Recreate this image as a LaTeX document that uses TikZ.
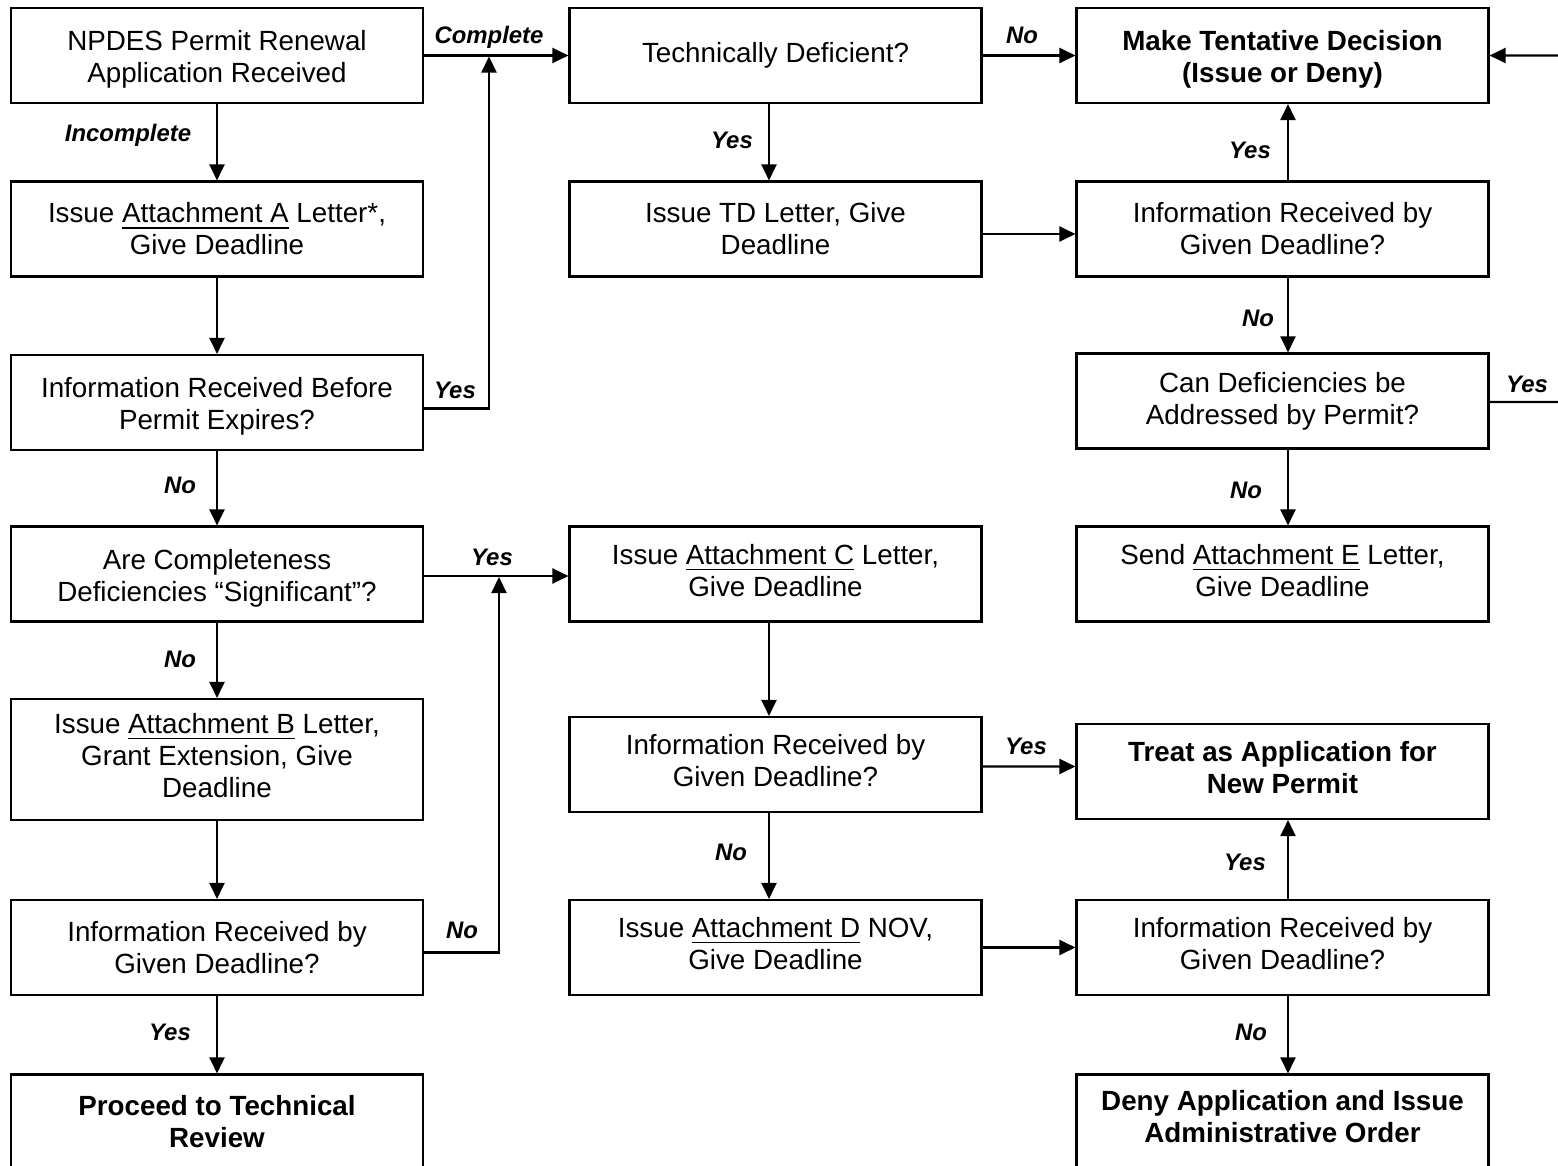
\documentclass[tikz,border=0pt]{standalone}
\usepackage{fontspec}
\setmainfont{Liberation Sans}
\usepackage{tikz}
\usetikzlibrary{arrows.meta,positioning}
\newcommand{\topgap}{\rule{0pt}{1.02em}}

\begin{document}
\begin{tikzpicture}
			\tikzstyle{Box}		= [rectangle, draw, line width=0.6pt, minimum width=4.12cm, minimum height=0.95cm, inner sep=0pt, align=center, font=\fontsize{7.9}{9.1}\selectfont]
			\tikzstyle{Tall}	= [minimum height=1.21cm]
			\tikzstyle{Strong}	= [font=\fontsize{7.9}{9.1}\selectfont\bfseries]
			\tikzstyle{High}	= [execute at end node={\rule[-0.29em]{0pt}{0.29em}}]
			\tikzstyle{Higher}	= [execute at end node={\rule[-0.43em]{0pt}{0.43em}}]
			\tikzstyle{Label}	= [inner sep=0pt, font=\fontsize{6.8}{8}\selectfont\bfseries\itshape]
			\tikzstyle{Flow}	= [line width=0.6pt, -{Triangle[length=1.6mm, width=1.5mm]}]

			\useasboundingbox (0, 0) rectangle (15.58, -11.66);
			\clip (0, 0) rectangle (15.58, -11.66);

			% left column
			\node (a1) at (2.17, -0.555) [Box] {\topgap NPDES Permit Renewal\\Application Received};
			\node (a2) at (2.17, -2.29) [Box] {Issue \underline{Attachment A} Letter*,\\Give Deadline};
			\node (a3) at (2.17, -4.025) [Box] {\topgap Information Received Before\\Permit Expires?};
			\node (a4) at (2.17, -5.74) [Box] {\topgap Are Completeness\\Deficiencies “Significant”?};
			\node (a5) at (2.17, -7.595) [Box][Tall][High] {Issue \underline{Attachment B} Letter,\\Grant Extension, Give\\Deadline};
			\node (a6) at (2.17, -9.475) [Box] {Information Received by\\Given Deadline?};
			\node (a7) at (2.17, -11.22) [Box][Strong] {Proceed to Technical\\Review};

			% middle column
			\node (b1) at (7.755, -0.555) [Box] {Technically Deficient?};
			\node (b2) at (7.755, -2.29) [Box] {Issue TD Letter, Give\\Deadline};
			\node (b3) at (7.755, -5.74) [Box][High] {Issue \underline{Attachment C} Letter,\\Give Deadline};
			\node (b4) at (7.755, -7.645) [Box][High] {Information Received by\\Given Deadline?};
			\node (b5) at (7.755, -9.475) [Box][High] {Issue \underline{Attachment D} NOV,\\Give Deadline};

			% right column
			\node (c1) at (12.825, -0.555) [Box][Strong] {\topgap Make Tentative Decision\\(Issue or Deny)};
			\node (c2) at (12.825, -2.29) [Box] {Information Received by\\Given Deadline?};
			\node (c3) at (12.825, -4.01) [Box] {Can Deficiencies be\\Addressed by Permit?};
			\node (c4) at (12.825, -5.74) [Box][High] {Send \underline{Attachment E} Letter,\\Give Deadline};
			\node (c5) at (12.825, -7.715) [Box][Strong][High] {Treat as Application for\\New Permit};
			\node (c6) at (12.825, -9.475) [Box][High] {Information Received by\\Given Deadline?};
			\node (c7) at (12.825, -11.22) [Box][Strong][Higher] {Deny Application and Issue\\Administrative Order};

			\coordinate (j1) at (4.89, -0.565);
			\coordinate (j2) at (4.99, -5.77);
			\coordinate (e1) at (15.9, -4.02);

			\draw [Flow] (a1) to (b1);
			\draw [Flow] (a1) to (a2);
			\draw [Flow] (a2) to (a3);
			\draw [Flow] ([yshift=-0.6mm]a3.east) -| (j1);
			\draw [Flow] (a3) to (a4);
			\draw [Flow] ([yshift=-0.2mm]a4.east) to ([yshift=-0.2mm]b3.west);
			\draw [Flow] (a4) to (a5);
			\draw [Flow] (a5) to (a6);
			\draw [Flow] ([yshift=-0.5mm]a6.east) -| (j2);
			\draw [Flow] (a6) to (a7);

			\draw [Flow] (b1) to (c1);
			\draw [Flow] ([xshift=-0.65mm]b1.south) to ([xshift=-0.65mm]b2.north);
			\draw [Flow] ([yshift=-0.5mm]b2.east) to ([yshift=-0.5mm]c2.west);
			\draw [Flow] ([xshift=-0.65mm]b3.south) to ([xshift=-0.65mm]b4.north);
			\draw [Flow] ([yshift=-0.2mm]b4.east) to ([yshift=0.5mm]c5.west);
			\draw [Flow] ([xshift=-0.65mm]b4.south) to ([xshift=-0.65mm]b5.north);
			\draw [Flow] (b5) to (c6);

			\draw [Flow] ([xshift=0.55mm]c2.north) to ([xshift=0.55mm]c1.south);
			\draw [Flow] ([xshift=0.55mm]c2.south) to ([xshift=0.55mm]c3.north);
			\draw [Flow] ([xshift=0.55mm]c3.south) to ([xshift=0.55mm]c4.north);
			\draw [Flow] ([yshift=-0.1mm]c3.east) -- (e1) |- (c1.east);
			\draw [Flow] ([xshift=0.55mm]c6.north) to ([xshift=0.55mm]c5.south);
			\draw [Flow] ([xshift=0.55mm]c6.south) to ([xshift=0.55mm]c7.north);

			% connector labels
			\node (t1) at (4.89, -0.37) [Label] {Complete};
			\node (t2) at (1.28, -1.35) [Label] {Incomplete};
			\node (t3) at (4.55, -3.9) [Label] {Yes};
			\node (t4) at (1.80, -4.85) [Label] {No};
			\node (t5) at (4.92, -5.57) [Label] {Yes};
			\node (t6) at (1.80, -6.59) [Label] {No};
			\node (t7) at (4.62, -9.30) [Label] {No};
			\node (t8) at (1.70, -10.32) [Label] {Yes};
			\node (t9) at (7.32, -1.40) [Label] {Yes};
			\node (t10) at (10.22, -0.35) [Label] {No};
			\node (t11) at (12.50, -1.50) [Label] {Yes};
			\node (t12) at (12.58, -3.18) [Label] {No};
			\node (t13) at (12.46, -4.90) [Label] {No};
			\node (t14) at (15.27, -3.84) [Label] {Yes};
			\node (t15) at (10.26, -7.46) [Label] {Yes};
			\node (t16) at (7.31, -8.52) [Label] {No};
			\node (t17) at (12.45, -8.62) [Label] {Yes};
			\node (t18) at (12.51, -10.32) [Label] {No};
		\end{tikzpicture}
\end{document}
